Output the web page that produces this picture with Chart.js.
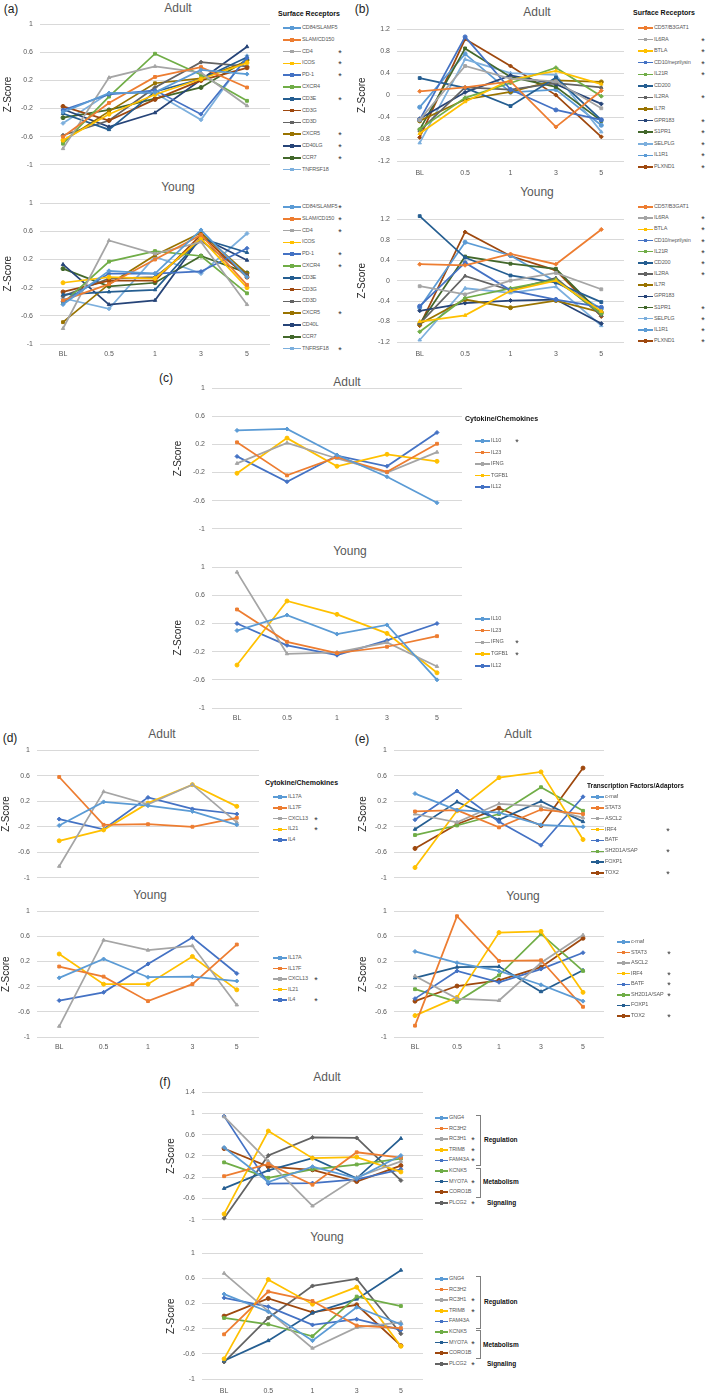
<!DOCTYPE html>
<html>
<head>
<meta charset="utf-8">
<script src="https://cdn.jsdelivr.net/npm/chart.js@4.4.1/dist/chart.umd.min.js"></script>
<style>
  body { margin: 0; width: 709px; height: 1394px; background: #fff; position: relative; overflow: hidden;
         font-family: "Liberation Sans", Arial, sans-serif; }
  canvas, .t, .ic, .br { position: absolute; }
  .t { white-space: nowrap; line-height: 1; }
  .lg { letter-spacing: -0.15px; }
  .ic { height: 1.5px; }
  .ic::after { content: ''; position: absolute; width: 3.5px; height: 3.5px; top: -1px; left: 50%;
               margin-left: -1.75px; background: inherit; }
  .br { border: 1px solid #7f7f7f; border-left: none; width: 4px; }
</style>
</head>
<body>
<script>
// shared axis values
const timepoints = ['BL', '0.5', '1', '3', '5'];
const ticksA = [-1, -0.6, -0.2, 0.2, 0.6, 1];
const ticksB = [-1.2, -0.8, -0.4, 0, 0.4, 0.8, 1.2];
const ticksF = [-1, -0.6, -0.2, 0.2, 0.6, 1, 1.4];
const office = ['#5B9BD5', '#ED7D31', '#A5A5A5', '#FFC000', '#4472C4', '#70AD47', '#255E91',
                '#9E480E', '#636363', '#997300', '#264478', '#43682B', '#7CAFDD'];

// (a) surface receptors
const aAdultNames = ['CD84/SLAMF5', 'SLAM/CD150', 'CD4', 'ICOS', 'PD-1', 'CXCR4', 'CD3E', 'CD3G', 'CD3D', 'CXCR5', 'CD40LG', 'CCR7', 'TNFRSF18'];
const aYoungNames = ['CD84/SLAMF5', 'SLAM/CD150', 'CD4', 'ICOS', 'PD-1', 'CXCR4', 'CD3E', 'CD3G', 'CD3D', 'CXCR5', 'CD40L', 'CCR7', 'TNFRSF18'];
const aAdult = [
  [-0.25, 0.02, 0.03, 0.35, 0.29],
  [-0.6, -0.12, 0.25, 0.39, 0.1],
  [-0.77, 0.24, 0.4, 0.31, -0.16],
  [-0.65, -0.28, 0.0, 0.22, 0.45],
  [-0.22, 0.0, 0.06, -0.28, 0.52],
  [-0.7, -0.03, 0.58, 0.28, -0.09],
  [-0.27, -0.5, 0.04, 0.22, 0.53],
  [-0.17, -0.37, -0.07, 0.2, 0.38],
  [-0.58, -0.37, 0.1, 0.46, 0.4],
  [-0.66, -0.24, 0.16, 0.23, 0.47],
  [-0.21, -0.46, -0.26, 0.21, 0.68],
  [-0.33, -0.22, -0.06, 0.1, 0.49],
  [-0.41, 0.02, 0.02, -0.36, 0.55]
];
const aYoung = [
  [-0.44, 0.04, 0.0, 0.62, -0.05],
  [-0.38, -0.15, 0.2, 0.55, -0.16],
  [-0.78, 0.47, 0.28, 0.45, -0.44],
  [-0.13, -0.05, -0.07, 0.5, -0.2],
  [-0.4, 0.0, 0.0, 0.03, 0.36],
  [-0.42, 0.17, 0.32, 0.25, -0.28],
  [-0.3, -0.26, -0.23, 0.5, 0.3],
  [-0.26, -0.1, -0.1, 0.55, -0.05],
  [-0.32, -0.07, -0.05, 0.47, -0.02],
  [-0.69, -0.15, 0.26, 0.58, 0.0],
  [0.13, -0.44, -0.38, 0.52, 0.19],
  [0.07, -0.18, -0.13, 0.25, 0.01],
  [-0.35, -0.5, 0.24, 0.0, 0.57]
];
const aAdultStar = [0, 0, 1, 1, 1, 0, 1, 0, 0, 1, 1, 1, 0];
const aYoungStar = [1, 1, 1, 0, 1, 1, 0, 0, 0, 1, 0, 0, 1];

// (b) surface receptors
const bNames = ['CD57/B3GAT1', 'IL6RA', 'BTLA', 'CD10/neprilysin', 'IL21R', 'CD200', 'IL2RA', 'IL7R', 'GPR183', 'S1PR1', 'SELPLG', 'IL1R1', 'PLXND1'];
const bColors = ['#ED7D31', '#A5A5A5', '#FFC000', '#4472C4', '#70AD47', '#255E91', '#636363',
                 '#997300', '#264478', '#43682B', '#7CAFDD', '#5B9BD5', '#9E480E'];
const bAdult = [
  [0.07, 0.14, 0.25, -0.58, 0.08],
  [-0.45, 0.53, 0.3, 0.25, -0.24],
  [-0.7, -0.12, 0.28, 0.44, 0.2],
  [-0.45, 1.06, 0.1, -0.27, -0.45],
  [-0.62, -0.05, 0.22, 0.5, -0.02],
  [0.31, 0.13, -0.2, 0.32, -0.45],
  [-0.65, 0.14, 0.1, 0.22, 0.14],
  [-0.47, -0.08, 0.06, 0.27, 0.24],
  [-0.43, 0.05, 0.36, 0.2, -0.16],
  [-0.63, 0.85, 0.33, 0.15, -0.47],
  [-0.87, 0.65, 0.4, 0.37, -0.67],
  [-0.22, 0.75, 0.05, 0.1, -0.55],
  [-0.77, 1.02, 0.53, 0.0, -0.76]
];
const bYoung = [
  [0.32, 0.3, 0.52, 0.32, 1.0],
  [-0.11, -0.27, 0.0, 0.15, -0.17],
  [-0.8, -0.68, -0.2, 0.0, -0.6],
  [-0.5, 0.35, -0.19, -0.37, -0.52],
  [-1.0, -0.34, -0.15, 0.02, -0.65],
  [1.26, 0.45, 0.1, -0.04, -0.42],
  [-0.84, 0.09, -0.19, 0.05, -0.68],
  [-0.85, -0.37, -0.53, -0.39, -0.62],
  [-0.59, -0.44, -0.39, -0.37, -0.84],
  [-0.85, 0.47, 0.33, 0.23, -0.65],
  [-1.16, -0.15, -0.24, -0.12, -0.88],
  [-0.53, 0.75, 0.49, -0.02, -0.55],
  [-0.88, 0.95, 0.48, 0.2, -0.7]
];
const bAdultStar = [0, 1, 1, 1, 1, 0, 1, 0, 1, 1, 1, 1, 1];
const bYoungStar = [0, 1, 1, 1, 1, 1, 1, 0, 0, 1, 1, 1, 1];

// (c) cytokines
const cNames = ['IL10', 'IL23', 'IFNG', 'TGFB1', 'IL12'];
const cAdult = [
  [0.4, 0.42, 0.05, -0.26, -0.63],
  [0.23, -0.24, 0.02, -0.19, 0.21],
  [-0.07, 0.22, 0.0, -0.2, 0.09],
  [-0.21, 0.29, -0.11, 0.06, -0.04],
  [0.03, -0.33, 0.04, -0.11, 0.37]
];
const cYoung = [
  [0.1, 0.32, 0.05, 0.18, -0.6],
  [0.4, -0.06, -0.22, -0.13, 0.02],
  [0.93, -0.23, -0.21, -0.07, -0.41],
  [-0.39, 0.52, 0.33, 0.06, -0.5],
  [0.2, -0.11, -0.25, -0.04, 0.2]
];
const cAdultStar = [1, 0, 0, 0, 0];
const cYoungStar = [0, 0, 1, 1, 0];

// (d) cytokines
const dNames = ['IL17A', 'IL17F', 'CXCL13', 'IL21', 'IL4'];
const dAdult = [
  [-0.18, 0.19, 0.13, 0.04, -0.17],
  [0.58, -0.17, -0.16, -0.2, -0.06],
  [-0.82, 0.35, 0.15, 0.46, -0.13],
  [-0.42, -0.25, 0.17, 0.46, 0.12],
  [-0.08, -0.24, 0.26, 0.08, 0.0]
];
const dYoung = [
  [-0.06, 0.24, -0.05, -0.04, -0.11],
  [0.12, -0.04, -0.43, -0.16, 0.47],
  [-0.83, 0.54, 0.38, 0.45, -0.49],
  [0.32, -0.16, -0.16, 0.28, -0.25],
  [-0.42, -0.29, 0.16, 0.58, 0.01]
];
const dAdultStar = [0, 0, 1, 1, 0];
const dYoungStar = [0, 0, 1, 0, 1];

// (e) transcription factors
const eNames = ['c-maf', 'STAT3', 'ASCL2', 'IRF4', 'BATF', 'SH2D1A/SAP', 'FOXP1', 'TOX2'];
const eAdult = [
  [0.32, 0.06, 0.02, -0.17, -0.2],
  [0.04, 0.06, -0.21, 0.07, 0.0],
  [0.0, -0.13, 0.16, 0.12, -0.06],
  [-0.84, 0.05, 0.57, 0.66, -0.4],
  [-0.09, 0.36, -0.12, -0.49, 0.27],
  [-0.33, -0.18, 0.0, 0.42, 0.05],
  [-0.24, 0.19, -0.09, 0.2, -0.12],
  [-0.54, -0.16, 0.09, -0.18, 0.72]
];
const eYoung = [
  [0.36, 0.18, 0.05, -0.17, -0.43],
  [-0.82, 0.92, 0.21, 0.22, -0.52],
  [-0.03, -0.39, -0.42, 0.18, 0.62],
  [-0.66, -0.37, 0.66, 0.68, -0.29],
  [-0.39, 0.05, -0.13, 0.08, 0.34],
  [-0.24, -0.44, -0.02, 0.64, 0.05],
  [-0.06, 0.11, 0.12, -0.28, 0.06],
  [-0.43, -0.19, -0.1, 0.11, 0.57]
];
const eAdultStar = [0, 0, 0, 1, 0, 1, 0, 1];
const eYoungStar = [0, 1, 0, 1, 1, 1, 0, 1];

// (f) regulation / metabolism / signaling
const fNames = ['GNG4', 'RC3H2', 'RC3H1', 'TRIM8', 'FAM43A', 'KCNK5', 'MYO7A', 'CORO1B', 'PLCG2'];
const fAdult = [
  [0.36, -0.29, 0.0, -0.22, 0.21],
  [-0.18, 0.05, -0.34, 0.27, 0.17],
  [0.94, 0.1, -0.74, -0.2, 0.1],
  [-0.89, 0.67, 0.16, 0.18, -0.1],
  [0.95, -0.32, -0.31, -0.24, -0.05],
  [0.08, -0.21, -0.05, 0.04, 0.15],
  [-0.41, -0.07, 0.16, -0.22, 0.53],
  [0.34, 0.0, -0.06, -0.28, 0.02],
  [-0.97, 0.21, 0.55, 0.54, -0.26]
];
const fYoung = [
  [0.35, 0.07, -0.39, 0.14, -0.13],
  [-0.29, 0.39, 0.24, -0.15, -0.19],
  [0.68, 0.08, -0.51, -0.18, -0.1],
  [-0.68, 0.58, 0.19, 0.46, -0.48],
  [0.29, 0.15, -0.14, -0.05, -0.22],
  [-0.03, -0.13, -0.32, 0.31, 0.16],
  [-0.71, -0.39, 0.05, 0.27, 0.73],
  [0.0, 0.28, 0.06, 0.18, -0.47],
  [-0.73, -0.03, 0.48, 0.59, -0.28]
];
const fAdultStar = [0, 0, 1, 1, 1, 0, 1, 0, 1];
const fYoungStar = [0, 0, 1, 1, 0, 0, 1, 0, 1];

const shapes = ['rectRot', 'rect', 'triangle', 'circle'];

function txt(s, x, y, size, o = {}) {
  const d = document.createElement('div');
  d.className = 't' + (o.cls ? ' ' + o.cls : '');
  d.textContent = s;
  d.style.left = x + 'px';
  d.style.top = y + 'px';
  d.style.fontSize = size + 'px';
  d.style.color = o.color || '#595959';
  if (o.bold) d.style.fontWeight = 'bold';
  d.style.transform = o.center ? 'translate(-50%,-50%)' : 'translate(0,-50%)';
  document.body.appendChild(d);
}

// one line chart, placed so its plot area sits at the given pixel box
// (offsets measured: chart.js adds ~5px above the top gridline, and ~6px more below when x labels are hidden)
function plot(p) {
  const left = p.titleX - 6;
  const top = p.yTop - 11;
  const xH = p.showX ? 24 : 6;
  const w = p.gridRight - left + 2;
  const h = p.yBot - top + (p.showX ? 24 : 12);
  const c = document.createElement('canvas');
  c.width = w; c.height = h;
  c.style.left = left + 'px'; c.style.top = top + 'px';
  c.style.width = w + 'px'; c.style.height = h + 'px';
  document.body.appendChild(c);
  new Chart(c, {
    type: 'line',
    data: {
      labels: timepoints,
      datasets: p.values.map((v, i) => ({
        label: p.names[i],
        data: v,
        borderColor: p.colors[i],
        backgroundColor: p.colors[i],
        borderWidth: 1.75,
        pointRadius: 2,
        pointBorderWidth: 1,
        pointStyle: shapes[i % shapes.length],
        tension: 0,
        clip: false
      }))
    },
    options: {
      responsive: false,
      animation: false,
      devicePixelRatio: 1,
      layout: { padding: { top: 6, right: 2, left: 0, bottom: 0 } },
      plugins: { legend: { display: false }, tooltip: { enabled: false } },
      scales: {
        x: {
          offset: true,
          grid: { display: false, drawTicks: false },
          border: { display: false },
          ticks: { display: p.showX, color: '#595959', font: { size: 7 }, padding: p.xPad || 6,
                   maxRotation: 0, autoSkip: false },
          afterFit: s => { s.height = xH; }
        },
        y: {
          min: p.ticks[0],
          max: p.ticks[p.ticks.length - 1],
          afterBuildTicks: s => { s.ticks = p.ticks.map(v => ({ value: v })); },
          grid: { color: '#D9D9D9', drawTicks: false, lineWidth: 1 },
          border: { display: false },
          ticks: { color: '#595959', font: { size: 7 }, padding: 7,
                   callback: v => String(+Number(v).toFixed(1)) },
          title: { display: true, text: 'Z-Score', color: '#262626', font: { size: 10 }, padding: 0 },
          afterFit: s => { s.width = p.gridLeft - left; }
        }
      }
    }
  });
}

function legend(names, colors, stars, L) {
  names.forEach((n, i) => {
    const y = L.y0 + i * L.dy;
    const ic = document.createElement('div');
    ic.className = 'ic';
    ic.style.left = L.iconX + 'px';
    ic.style.top = (y - 0.75) + 'px';
    ic.style.width = (L.textX - L.iconX - 1) + 'px';
    ic.style.background = colors[i];
    document.body.appendChild(ic);
    txt(n, L.textX, y, 5.5, { cls: 'lg' });
    if (stars[i]) txt('*', L.starX, y + 1, 9, { color: '#333', center: true });
  });
}

function bracket(x, y1, y2) {
  const d = document.createElement('div');
  d.className = 'br';
  d.style.left = x + 'px';
  d.style.top = y1 + 'px';
  d.style.height = (y2 - y1) + 'px';
  document.body.appendChild(d);
}

// panel letters and titles
[['(a)', 11, 9], ['(b)', 362, 9], ['(c)', 166, 378], ['(d)', 10, 738], ['(e)', 362, 739], ['(f)', 165, 1082]]
  .forEach(([s, x, y]) => txt(s, x, y, 12, { color: '#222', center: true }));
[['Adult', 178, 8], ['Young', 178, 187], ['Adult', 537, 12], ['Young', 537, 192],
 ['Adult', 347, 382], ['Young', 350, 551], ['Adult', 162, 734], ['Young', 150, 895],
 ['Adult', 518, 734], ['Young', 523, 896], ['Adult', 327, 1077], ['Young', 327, 1237]]
  .forEach(([s, x, y]) => txt(s, x, y, 12, { center: true }));

// (a)
plot({ names: aAdultNames, values: aAdult, colors: office, ticks: ticksA, titleX: 8, gridLeft: 40, gridRight: 273, yTop: 24, yBot: 164, showX: false });
plot({ names: aYoungNames, values: aYoung, colors: office, ticks: ticksA, titleX: 8, gridLeft: 40, gridRight: 273, yTop: 203, yBot: 344, showX: true, xPad: 6 });
txt('Surface Receptors', 278, 13, 7, { bold: true, color: '#111' });
legend(aAdultNames, office, aAdultStar, { iconX: 283, textX: 302, y0: 28, dy: 11.8, starX: 340 });
legend(aYoungNames, office, aYoungStar, { iconX: 283, textX: 302, y0: 207, dy: 11.8, starX: 340 });

// (b)
plot({ names: bNames, values: bAdult, colors: bColors, ticks: ticksB, titleX: 362, gridLeft: 397, gridRight: 627, yTop: 29, yBot: 161, showX: true, xPad: 8 });
plot({ names: bNames, values: bYoung, colors: bColors, ticks: ticksB, titleX: 362, gridLeft: 397, gridRight: 627, yTop: 219, yBot: 342, showX: true, xPad: 8 });
txt('Surface Receptors', 633, 12, 7, { bold: true, color: '#111' });
legend(bNames, bColors, bAdultStar, { iconX: 638, textX: 654, y0: 28, dy: 11.58, starX: 703 });
legend(bNames, bColors, bYoungStar, { iconX: 638, textX: 654, y0: 207, dy: 11.17, starX: 703 });

// (c)
plot({ names: cNames, values: cAdult, colors: office, ticks: ticksA, titleX: 178, gridLeft: 212, gridRight: 465, yTop: 388, yBot: 528, showX: false });
plot({ names: cNames, values: cYoung, colors: office, ticks: ticksA, titleX: 178, gridLeft: 212, gridRight: 465, yTop: 567, yBot: 708, showX: true, xPad: 6 });
txt('Cytokine/Chemokines', 465, 418, 7, { bold: true, color: '#111' });
legend(cNames, office, cAdultStar, { iconX: 475, textX: 491, y0: 441, dy: 11.5, starX: 517 });
legend(cNames, office, cYoungStar, { iconX: 475, textX: 491, y0: 619, dy: 11.7, starX: 517 });

// (d)
plot({ names: dNames, values: dAdult, colors: office, ticks: ticksA, titleX: 6, gridLeft: 37, gridRight: 262, yTop: 750, yBot: 877, showX: false });
plot({ names: dNames, values: dYoung, colors: office, ticks: ticksA, titleX: 6, gridLeft: 37, gridRight: 262, yTop: 911, yBot: 1037, showX: true, xPad: 6 });
txt('Cytokine/Chemokines', 265, 782, 7, { bold: true, color: '#111' });
legend(dNames, office, dAdultStar, { iconX: 273, textX: 288, y0: 797, dy: 10.75, starX: 316 });
legend(dNames, office, dYoungStar, { iconX: 273, textX: 288, y0: 958, dy: 10.5, starX: 316 });

// (e)
plot({ names: eNames, values: eAdult, colors: office, ticks: ticksA, titleX: 363, gridLeft: 394, gridRight: 607, yTop: 750, yBot: 877, showX: false });
plot({ names: eNames, values: eYoung, colors: office, ticks: ticksA, titleX: 363, gridLeft: 394, gridRight: 607, yTop: 911, yBot: 1037, showX: true, xPad: 6 });
txt('Transcription Factors/Adaptors', 587, 786, 6.5, { bold: true, color: '#111' });
legend(eNames, office, eAdultStar, { iconX: 591, textX: 605, y0: 797, dy: 10.86, starX: 668 });
legend(eNames, office, eYoungStar, { iconX: 617, textX: 631, y0: 942, dy: 10.57, starX: 669 });

// (f)
plot({ names: fNames, values: fAdult, colors: office, ticks: ticksF, titleX: 171, gridLeft: 202, gridRight: 426, yTop: 1092, yBot: 1219, showX: false });
plot({ names: fNames, values: fYoung, colors: office, ticks: ticksA, titleX: 171, gridLeft: 202, gridRight: 426, yTop: 1253, yBot: 1379, showX: true, xPad: 8 });
legend(fNames, office, fAdultStar, { iconX: 435, textX: 449, y0: 1118, dy: 10.6, starX: 473 });
legend(fNames, office, fYoungStar, { iconX: 435, textX: 449, y0: 1279, dy: 10.6, starX: 473 });
[[1115, 1164, 1168, 1196, 1140, 1182, 1203], [1276, 1327, 1330, 1357, 1302, 1345, 1364]]
  .forEach(([r1, r2, m1, m2, ry, my, sy]) => {
    bracket(476, r1, r2);
    bracket(476, m1, m2);
    txt('Regulation', 484, ry, 6.5, { bold: true, color: '#111' });
    txt('Metabolism', 483, my, 6.5, { bold: true, color: '#111' });
    txt('Signaling', 487, sy, 6.5, { bold: true, color: '#111' });
  });
</script>
</body>
</html>
